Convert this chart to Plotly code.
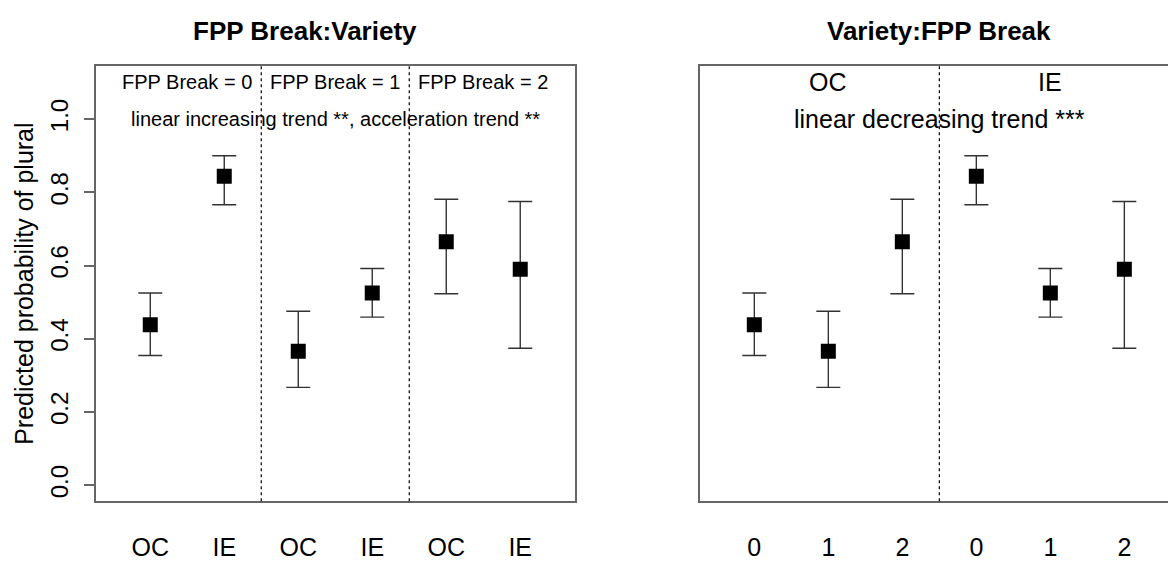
import plotly.graph_objects as go

# Predicted probabilities with confidence limits, ordered by FPP break then variety
fpp_break = [0, 0, 1, 1, 2, 2]
variety = ["OC", "IE", "OC", "IE", "OC", "IE"]
prob = [0.438, 0.844, 0.366, 0.525, 0.665, 0.590]
upper = [0.525, 0.900, 0.475, 0.592, 0.781, 0.775]
lower = [0.354, 0.766, 0.267, 0.459, 0.523, 0.374]

y_ticks = [0.0, 0.2, 0.4, 0.6, 0.8, 1.0]
y_tick_labels = ["0.0", "0.2", "0.4", "0.6", "0.8", "1.0"]

W, H = 1168, 561
FONT = "Liberation Sans, Arial, sans-serif"
BOX = "#666666"


def px_x(p):
    return p / W


def px_y(p):
    return 1 - p / H


# Right panel: regroup by variety, then FPP break
order_right = [i for v in ("OC", "IE") for i in range(6) if variety[i] == v]
prob_r = [prob[i] for i in order_right]
upper_r = [upper[i] for i in order_right]
lower_r = [lower[i] for i in order_right]
labels_r = [str(fpp_break[i]) for i in order_right]

pos = list(range(1, 7))

fig = go.Figure()


def add_points(xs, ys, up, lo, xa, ya):
    fig.add_trace(go.Scatter(
        x=xs, y=ys, mode="markers", xaxis=xa, yaxis=ya, showlegend=False,
        marker=dict(symbol="square", size=15, color="black", line=dict(width=0)),
        error_y=dict(type="data", symmetric=False,
                     array=[u - v for u, v in zip(up, ys)],
                     arrayminus=[v - l for v, l in zip(ys, lo)],
                     width=12, thickness=1.4, color="#333333"),
    ))


add_points(pos, prob, upper, lower, "x", "y")
add_points(pos, prob_r, upper_r, lower_r, "x2", "y2")

y_top, y_bot = 67.7, 511.3
yd = [px_y(y_bot), px_y(y_top)]
yr = [-0.044, 1.144]

axis_common = dict(showgrid=False, zeroline=False, showline=True,
                   linecolor=BOX, linewidth=2)

fig.update_layout(
    width=W, height=H,
    margin=dict(l=0, r=0, t=0, b=0),
    paper_bgcolor="white", plot_bgcolor="white",
    font=dict(family=FONT, color="black"),
    xaxis=dict(domain=[px_x(95.5), px_x(575)], range=[0.26, 6.74],
               tickvals=pos, ticktext=variety, ticks="", mirror=True,
               tickfont=dict(size=25), ticklabelstandoff=23, **axis_common),
    yaxis=dict(domain=yd, range=yr, tickvals=y_ticks, ticktext=y_tick_labels,
               ticks="outside", ticklen=10, tickwidth=1.5, tickcolor=BOX,
               tickangle=-90, tickfont=dict(size=24), mirror=True,
               ticklabelstandoff=6, **axis_common),
    xaxis2=dict(domain=[px_x(700.3), 1.0], range=[0.27, 6.59], anchor="y2",
                tickvals=pos, ticktext=labels_r, ticks="", mirror=True,
                tickfont=dict(size=25), ticklabelstandoff=23, **axis_common),
    yaxis2=dict(domain=yd, range=yr, anchor="x2", showticklabels=False,
                ticks="", mirror=False, **axis_common),
)

# Dotted separators between groups
for xv, xr, yr_ in [(2.5, "x", "y domain"), (4.5, "x", "y domain"), (3.5, "x2", "y2 domain")]:
    fig.add_shape(type="line", xref=xr, yref=yr_, x0=xv, x1=xv, y0=0, y1=1,
                  line=dict(color="black", width=1.2, dash="dot"))

ann = []
# Left panel group labels and trend note
for xv, txt in zip([1.5, 3.5, 5.5], ["FPP Break = 0", "FPP Break = 1", "FPP Break = 2"]):
    ann.append(dict(x=xv, y=1.1, xref="x", yref="y", text=txt, showarrow=False,
                    font=dict(size=20)))
ann.append(dict(x=3.5, y=1.0, xref="x", yref="y",
                text="linear increasing trend **, acceleration trend **",
                showarrow=False, font=dict(size=20)))
# Right panel group labels and trend note
for xv, txt in zip([2, 5], ["OC", "IE"]):
    ann.append(dict(x=xv, y=1.1, xref="x2", yref="y2", text=txt, showarrow=False,
                    font=dict(size=25)))
ann.append(dict(x=3.5, y=1.0, xref="x2", yref="y2",
                text="linear decreasing trend ***", showarrow=False,
                font=dict(size=25)))
# Panel titles
ann.append(dict(x=px_x(305), y=px_y(32), xref="paper", yref="paper",
                xanchor="center", yanchor="middle",
                text="<b>FPP Break:Variety</b>", showarrow=False,
                font=dict(size=26)))
ann.append(dict(x=px_x(939), y=px_y(32), xref="paper", yref="paper",
                xanchor="center", yanchor="middle",
                text="<b>Variety:FPP Break</b>", showarrow=False,
                font=dict(size=26)))
# Y axis title
ann.append(dict(x=px_x(24), y=0.5 * (yd[0] + yd[1]), xref="paper", yref="paper",
                xanchor="center", yanchor="middle",
                text="Predicted probability of plural", textangle=-90,
                showarrow=False, font=dict(size=25)))
fig.update_layout(annotations=ann)

fig.write_html("out.html")
